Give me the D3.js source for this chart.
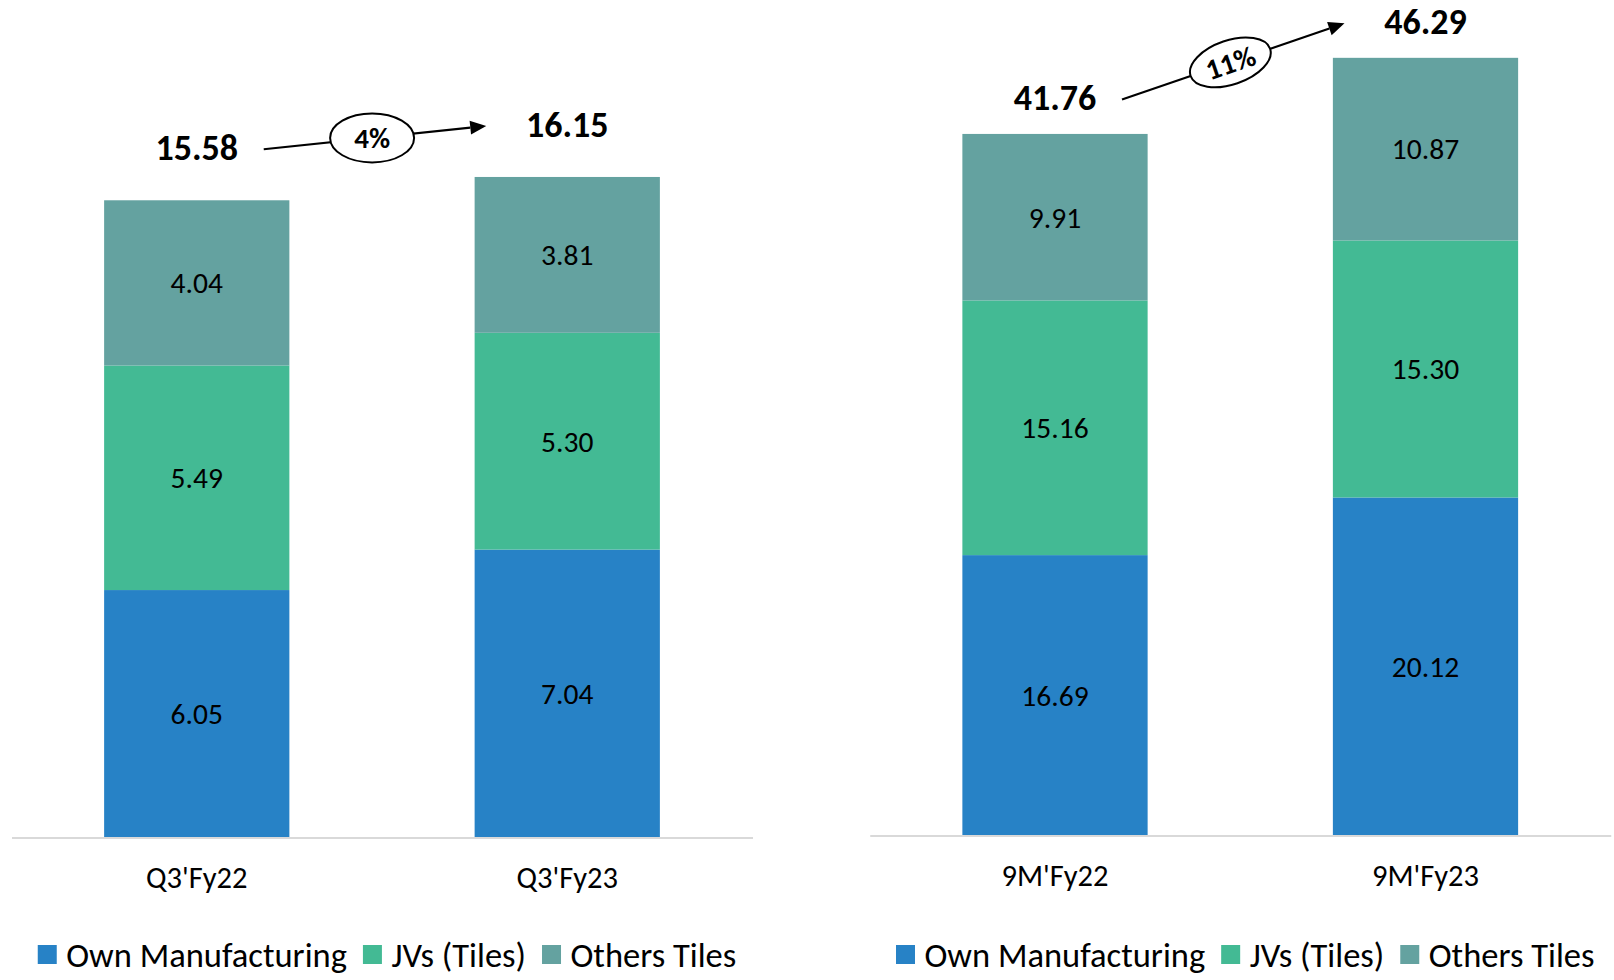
<!DOCTYPE html>
<html>
<head>
<meta charset="utf-8">
<script src="https://cdn.jsdelivr.net/npm/d3@7"></script>
<style>
  html, body { margin: 0; padding: 0; background: #ffffff; }
  svg { display: block; }
  text { font-family: Carlito, Lato, "Open Sans", sans-serif; fill: #000; }
</style>
</head>
<body>
<svg id="chart" width="1614" height="980"></svg>
<script>
// Series shared by both panels
const seriesNames = ["Own Manufacturing", "JVs (Tiles)", "Others Tiles"];
const seriesKeys = ["own", "jv", "others"];
const seriesColors = ["#2782C6", "#43BA94", "#64A2A0"];

// Quarter panel
const quarterCategories = ["Q3'Fy22", "Q3'Fy23"];
const quarterOwn = [6.05, 7.04];
const quarterJV = [5.49, 5.30];
const quarterOthers = [4.04, 3.81];
const quarterTotals = [15.58, 16.15];
const quarterGrowth = "4%";

// Nine-month panel
const nineMonthCategories = ["9M'Fy22", "9M'Fy23"];
const nineMonthOwn = [16.69, 20.12];
const nineMonthJV = [15.16, 15.30];
const nineMonthOthers = [9.91, 10.87];
const nineMonthTotals = [41.76, 46.29];
const nineMonthGrowth = "11%";

const svg = d3.select("#chart");

const panels = [
  {
    categories: quarterCategories, own: quarterOwn, jv: quarterJV, others: quarterOthers,
    totals: quarterTotals, growth: quarterGrowth,
    xRange: [11.5, 752.5], yMax: 18, yRange: [837.5, 837.5 - 18 * 40.9],
    totalLift: 40, ellipse: { rx: 42, ry: 24.5, rotate: false }
  },
  {
    categories: nineMonthCategories, own: nineMonthOwn, jv: nineMonthJV, others: nineMonthOthers,
    totals: nineMonthTotals, growth: nineMonthGrowth,
    xRange: [869.75, 1610.75], yMax: 50, yRange: [835.5, 835.5 - 50 * 16.8],
    totalLift: 23.5, ellipse: { rx: 42, ry: 22, rotate: true }
  }
];

panels.forEach(p => {
  const rows = p.categories.map((c, i) => ({ cat: c, own: p.own[i], jv: p.jv[i], others: p.others[i] }));
  const stacked = d3.stack().keys(seriesKeys)(rows);

  const x = d3.scaleBand().domain(p.categories).range(p.xRange).paddingInner(0.5).paddingOuter(0.25);
  const y = d3.scaleLinear().domain([0, p.yMax]).range(p.yRange);
  const g = svg.append("g");

  // stacked bars
  stacked.forEach((layer, li) => {
    const lg = g.append("g").attr("fill", seriesColors[li]);
    lg.selectAll("rect").data(layer).join("rect")
      .attr("x", d => x(d.data.cat))
      .attr("width", x.bandwidth())
      .attr("y", d => y(d[1]))
      .attr("height", d => y(d[0]) - y(d[1]));
    // segment value labels
    g.append("g").selectAll("text").data(layer).join("text")
      .attr("x", d => x(d.data.cat) + x.bandwidth() / 2)
      .attr("y", d => (y(d[0]) + y(d[1])) / 2)
      .attr("dy", "0.35em")
      .attr("text-anchor", "middle")
      .style("font-size", "29.5px")
      .text(d => (d[1] - d[0]).toFixed(2));
  });

  // category axis
  const axis = g.append("g")
    .attr("transform", `translate(0,${p.yRange[0]})`)
    .call(d3.axisBottom(x).tickSize(0).tickPadding(0));
  axis.select(".domain").attr("stroke", "#D9D9D9").attr("stroke-width", 2);
  axis.selectAll(".tick text")
    .attr("y", 50.5).attr("dy", null)
    .attr("fill", "#000")
    .style("font-size", "30.5px")
    .style("font-family", "Carlito, Lato, 'Open Sans', sans-serif");

  // totals above bars
  const cx = p.categories.map(c => x(c) + x.bandwidth() / 2);
  const ty = p.totals.map(t => y(t) - p.totalLift);
  g.selectAll("text.total").data(p.totals).join("text")
    .attr("class", "total")
    .attr("x", (d, i) => cx[i])
    .attr("y", (d, i) => ty[i])
    .attr("text-anchor", "middle")
    .style("font-size", "36px")
    .style("font-weight", 700)
    .text(d => d.toFixed(2));

  // growth arrow with oval badge
  const x1 = cx[0] + 67, y1 = ty[0] - 11;
  const x2 = cx[1] - 81, y2 = ty[1] - 11;
  const ang = Math.atan2(y2 - y1, x2 - x1);
  const headLen = 16, headHalf = 7;
  const bx = x2 - headLen * Math.cos(ang), by = y2 - headLen * Math.sin(ang);
  g.append("line")
    .attr("x1", x1).attr("y1", y1).attr("x2", bx).attr("y2", by)
    .attr("stroke", "#000").attr("stroke-width", 2.2);
  g.append("path")
    .attr("d", `M${x2},${y2}L${bx - headHalf * Math.sin(ang)},${by + headHalf * Math.cos(ang)}L${bx + headHalf * Math.sin(ang)},${by - headHalf * Math.cos(ang)}Z`)
    .attr("fill", "#000");

  const t = 0.487;
  const ex = x1 + (x2 - x1) * t, ey = y1 + (y2 - y1) * t;
  const rot = p.ellipse.rotate ? ang * 180 / Math.PI : 0;
  const badge = g.append("g").attr("transform", `translate(${ex},${ey}) rotate(${rot})`);
  badge.append("ellipse")
    .attr("rx", p.ellipse.rx).attr("ry", p.ellipse.ry)
    .attr("fill", "#fff").attr("stroke", "#000").attr("stroke-width", 2);
  badge.append("text")
    .attr("text-anchor", "middle").attr("dy", "0.36em")
    .style("font-size", "29px").style("font-weight", 700)
    .text(p.growth);

  // legend, centred under the panel
  const leg = g.append("g");
  let cursor = 0;
  seriesNames.forEach((name, i) => {
    const item = leg.append("g").attr("transform", `translate(${cursor},0)`);
    item.append("rect").attr("x", 0).attr("y", 945).attr("width", 19).attr("height", 19).attr("fill", seriesColors[i]);
    const tx = item.append("text").attr("x", 28.5).attr("y", 967)
      .style("font-size", "34.5px").text(name);
    cursor += 28.5 + tx.node().getComputedTextLength() + 16;
  });
  const legWidth = cursor - 16;
  const mid = (p.xRange[0] + p.xRange[1]) / 2 + 5;
  leg.attr("transform", `translate(${mid - legWidth / 2},0)`);
});
</script>
</body>
</html>
